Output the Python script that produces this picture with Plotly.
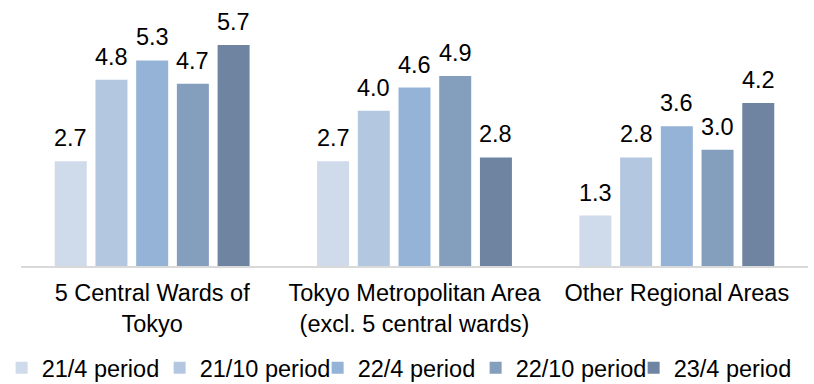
import plotly.graph_objects as go

categories = ["5 Central Wards of<br>Tokyo",
              "Tokyo Metropolitan Area<br>(excl. 5 central wards)",
              "Other Regional Areas"]
series_names = ["21/4 period", "21/10 period", "22/4 period", "22/10 period", "23/4 period"]
v_21_4 = [2.7, 2.7, 1.3]
v_21_10 = [4.8, 4.0, 2.8]
v_22_4 = [5.3, 4.6, 3.6]
v_22_10 = [4.7, 4.9, 3.0]
v_23_4 = [5.7, 2.8, 4.2]
series_values = [v_21_4, v_21_10, v_22_4, v_22_10, v_23_4]
colors = ["#CFDAEA", "#B4C7E0", "#95B3D7", "#849EBE", "#6E84A1"]

FONT = "Liberation Sans, Arial, sans-serif"
FS = 23.5
BARGAP = 0.224
n = len(series_names)

fig = go.Figure()
for name, vals, col in zip(series_names, series_values, colors):
    fig.add_trace(go.Bar(name=name, x=categories, y=vals, marker_color=col,
                         marker_line_width=0))

# data labels via annotations, aligned to grouped bar centers
slot = (1 - BARGAP) / n
for k, vals in enumerate(series_values):
    off = (k - (n - 1) / 2) * slot
    for i, v in enumerate(vals):
        fig.add_annotation(x=i + off, y=v, xref="x", yref="y", text=f"{v:.1f}",
                           showarrow=False, yanchor="bottom", yshift=8,
                           font=dict(family=FONT, size=FS, color="#000000"))

fig.update_layout(
    width=814, height=384,
    margin=dict(l=21, r=6, t=10, b=118, autoexpand=False),
    paper_bgcolor="white", plot_bgcolor="white",
    barmode="group", bargap=BARGAP, bargroupgap=0.214,
    font=dict(family=FONT, size=FS, color="#000000"),
    showlegend=True,
    legend=dict(orientation="h", xref="container", yref="container",
                x=0.002, xanchor="left", y=0.042, yanchor="middle",
                entrywidth=113, entrywidthmode="pixels",
                font=dict(family=FONT, size=FS, color="#000000"),
                bgcolor="rgba(0,0,0,0)"),
)
fig.update_xaxes(showline=True, linecolor="#D9D9D9", linewidth=2, ticks="",
                 ticklabelstandoff=5,
                 tickfont=dict(family=FONT, size=FS, color="#000000"),
                 showgrid=False, zeroline=False)
fig.update_yaxes(range=[0, 6.6], visible=False, showgrid=False, zeroline=False)

fig.write_html("out.html")
